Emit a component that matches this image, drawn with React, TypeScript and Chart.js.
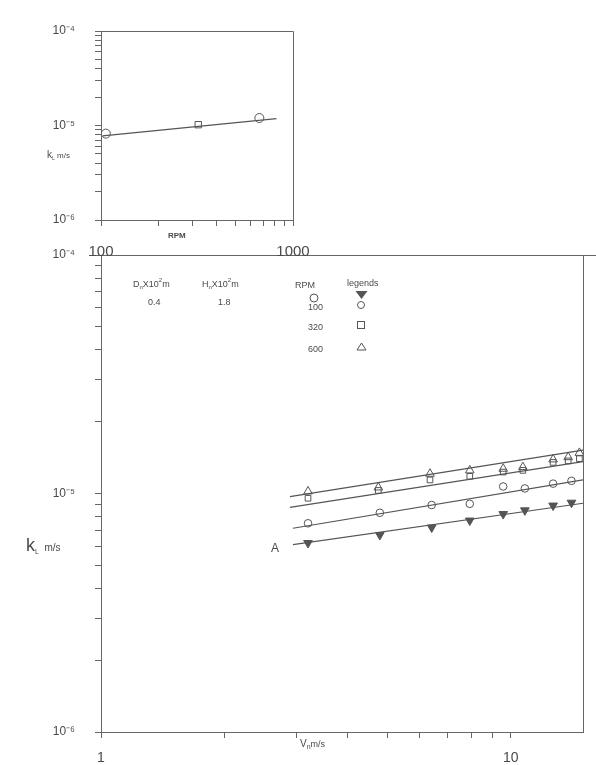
import React, { useEffect, useRef } from "react";
import { Chart, registerables } from "chart.js";

Chart.register(...registerables);

// ---------- data ----------
// main chart: k_L (m/s) versus nozzle velocity V_n (m/s)
const velocityTop = [3.2, 4.75, 6.35, 7.94, 9.58, 10.7, 12.68, 13.8, 14.7];
const velocityBottom = [3.2, 4.79, 6.41, 7.94, 9.58, 10.82, 12.68, 14.06];
const k600 = [1.02e-5, 1.06e-5, 1.21e-5, 1.25e-5, 1.27e-5, 1.29e-5, 1.39e-5, 1.42e-5, 1.48e-5];
const k320 = [9.55e-6, 1.03e-5, 1.14e-5, 1.18e-5, 1.23e-5, 1.25e-5, 1.35e-5, 1.37e-5, 1.4e-5];
const k100 = [7.5e-6, 8.3e-6, 8.95e-6, 9.05e-6, 1.07e-5, 1.05e-5, 1.1e-5, 1.13e-5];
const kA = [6.2e-6, 6.7e-6, 7.2e-6, 7.7e-6, 8.2e-6, 8.5e-6, 8.9e-6, 9.15e-6];

const fitVelocityTop = [2.89, 15];
const fitVelocityBottom = [2.94, 15];
const fit600 = [9.7e-6, 1.52e-5];
const fit320 = [8.75e-6, 1.36e-5];
const fit100 = [7.15e-6, 1.14e-5];
const fitA = [6.1e-6, 9.1e-6];

const mainXTicks = [1, 2, 3, 4, 5, 6, 7, 8, 9, 10];
const mainXLabels = ["1", "", "", "", "", "", "", "", "", "10"];
const mainYTicks = [
  1e-6, 2e-6, 3e-6, 4e-6, 5e-6, 6e-6, 7e-6, 8e-6, 9e-6,
  1e-5, 2e-5, 3e-5, 4e-5, 5e-5, 6e-5, 7e-5, 8e-5, 9e-5, 1e-4,
];

// inset: k_L versus RPM
const insetRpm = [106, 321, 668];
const insetK = [8.2e-6, 1.02e-5, 1.2e-5];
const insetFitRpm = [102, 820];
const insetFitK = [7.75e-6, 1.18e-5];
const insetXTicks = [100, 200, 300, 400, 500, 600, 700, 800, 900, 1000];
const insetYTicks = mainYTicks;

// legend table text
const legendRpm = ["100", "320", "600"];
const legendDn = "0.4";
const legendHn = "1.8";

// ---------- helpers ----------
const FONT = "'Liberation Sans', Arial, Helvetica, sans-serif";
const INK = "#4a4a4a";
const LINE = "#666666";

const SUP: Record<string, string> = { "-": "\u207B", "0": "\u2070", "1": "\u00B9", "2": "\u00B2", "3": "\u00B3", "4": "\u2074", "5": "\u2075", "6": "\u2076", "7": "\u2077", "8": "\u2078", "9": "\u2079" };
function powLabel(v: number): string {
  const l = Math.log10(v);
  const e = Math.round(l);
  if (Math.abs(l - e) > 1e-6) return "";
  return "10" + String(e).split("").map((c) => SUP[c] || c).join("");
}

type Part = [string, number, number, boolean?];
function drawParts(ctx: CanvasRenderingContext2D, x: number, y: number, parts: Part[]) {
  let cx = x;
  for (const [t, size, dy, bold] of parts) {
    ctx.font = `${bold ? "bold " : ""}${size}px ${FONT}`;
    ctx.fillText(t, cx, y + dy);
    cx += ctx.measureText(t).width;
  }
}

function pts(xs: number[], ys: number[]) {
  return xs.map((x, i) => ({ x, y: ys[i] }));
}

function logAxis(ticks: number[], labelFn: (v: number, i: number) => string, padding: number, size: number, fit: (s: any) => void, min: number, max: number, position: string) {
  return {
    type: "logarithmic" as const,
    position,
    min,
    max,
    afterBuildTicks: (axis: any) => {
      axis.ticks = ticks.map((v) => ({ value: v }));
    },
    afterFit: fit,
    grid: { drawOnChartArea: false, drawTicks: true, tickLength: 6, color: LINE, lineWidth: 1 },
    border: { display: true, color: LINE, width: 1 },
    ticks: {
      autoSkip: false,
      maxRotation: 0,
      minRotation: 0,
      padding,
      color: INK,
      font: { family: FONT, size },
      callback: (v: any, i: number) => labelFn(Number(v), i),
    },
  };
}

// ---------- main chart ----------
function MainChart() {
  const ref = useRef<HTMLCanvasElement | null>(null);
  useEffect(() => {
    if (!ref.current) return;
    const annot = {
      id: "mainAnnot",
      afterDraw(chart: any) {
        const ctx: CanvasRenderingContext2D = chart.ctx;
        const a = chart.chartArea;
        ctx.save();
        ctx.strokeStyle = LINE;
        ctx.lineWidth = 1;
        ctx.beginPath();
        ctx.moveTo(a.left - 12, a.top + 0.5);
        ctx.lineTo(chart.width, a.top + 0.5);
        ctx.moveTo(a.right + 0.5, a.top);
        ctx.lineTo(a.right + 0.5, a.bottom);
        ctx.stroke();

        ctx.fillStyle = INK;
        ctx.textBaseline = "alphabetic";
        ctx.textAlign = "left";
        // y title
        drawParts(ctx, 26, 551, [["k", 18, 0], ["L", 7, 3], ["  m/s", 10, 0]]);
        // x title
        drawParts(ctx, 300, 747, [["V", 10, 0], ["n", 7, 2], ["m/s", 9, 0]]);
        // legend table
        drawParts(ctx, 133, 287, [["D", 9, 0], ["n", 6, 2], ["X10", 9, 0], ["2", 6, -5], ["m", 9, 0]]);
        drawParts(ctx, 202, 287, [["H", 9, 0], ["n", 6, 2], ["X10", 9, 0], ["2", 6, -5], ["m", 9, 0]]);
        drawParts(ctx, 295, 288, [["RPM", 9, 0]]);
        drawParts(ctx, 347, 286, [["legends", 9, 0]]);
        drawParts(ctx, 148, 305, [[legendDn, 9, 0]]);
        drawParts(ctx, 218, 305, [[legendHn, 9, 0]]);
        drawParts(ctx, 308, 310, [[legendRpm[0], 9, 0]]);
        drawParts(ctx, 308, 330, [[legendRpm[1], 9, 0]]);
        drawParts(ctx, 308, 352, [[legendRpm[2], 9, 0]]);
        // "A" label
        drawParts(ctx, 271, 552, [["A", 12, 0]]);

        // legend symbols
        ctx.strokeStyle = "#555";
        ctx.lineWidth = 1;
        ctx.beginPath();
        ctx.moveTo(355.5, 291);
        ctx.lineTo(367.5, 291);
        ctx.lineTo(361.5, 299);
        ctx.closePath();
        ctx.fillStyle = "#555";
        ctx.fill();
        ctx.beginPath();
        ctx.arc(361, 305, 3.5, 0, Math.PI * 2);
        ctx.stroke();
        ctx.beginPath();
        ctx.arc(314, 298, 4, 0, Math.PI * 2);
        ctx.stroke();
        ctx.strokeRect(357.5, 321.5, 7, 7);
        ctx.beginPath();
        ctx.moveTo(361.5, 343);
        ctx.lineTo(366, 350);
        ctx.lineTo(357, 350);
        ctx.closePath();
        ctx.stroke();
        ctx.restore();
      },
    };

    const fitStyle = { showLine: true, borderColor: "#555", borderWidth: 1.2, pointRadius: 0, fill: false };
    const chart = new Chart(ref.current, {
      type: "scatter",
      data: {
        datasets: [
          { ...fitStyle, data: pts(fitVelocityTop, fit600) },
          { ...fitStyle, data: pts(fitVelocityTop, fit320) },
          { ...fitStyle, data: pts(fitVelocityBottom, fit100) },
          { ...fitStyle, data: pts(fitVelocityBottom, fitA) },
          { data: pts(velocityTop, k320), pointStyle: "rect", pointRadius: 4, borderColor: "#555", borderWidth: 1, backgroundColor: "rgba(255,255,255,0)" },
          { data: pts(velocityTop, k600), pointStyle: "triangle", pointRadius: 5, borderColor: "#555", borderWidth: 1, backgroundColor: "rgba(255,255,255,0)" },
          { data: pts(velocityBottom, k100), pointStyle: "circle", pointRadius: 3.8, borderColor: "#555", borderWidth: 1, backgroundColor: "#fff" },
          { data: pts(velocityBottom, kA), pointStyle: "triangle", rotation: 180, pointRadius: 5, borderColor: "#555", borderWidth: 1, backgroundColor: "#555" },
        ] as any,
      },
      options: {
        animation: false,
        responsive: false,
        maintainAspectRatio: false,
        events: [],
        layout: { padding: { left: 0, top: 255, right: 13, bottom: 0 } },
        plugins: { legend: { display: false }, tooltip: { enabled: false }, title: { display: false } },
        scales: {
          x: logAxis(mainXTicks, (v) => {
            const i = mainXTicks.indexOf(v);
            return i >= 0 ? mainXLabels[i] : "";
          }, 12, 14, (s: any) => { s.height = 33; }, 1, 15, "bottom"),
          y: logAxis(mainYTicks, (v) => powLabel(v), 20, 12, (s: any) => { s.width = 101; }, 1e-6, 1e-4, "left"),
        } as any,
      },
      plugins: [annot],
    });
    return () => chart.destroy();
  }, []);
  return <canvas ref={ref} width={596} height={765} style={{ position: "absolute", left: 0, top: 0, width: 596, height: 765 }} />;
}

// ---------- inset chart ----------
function InsetChart() {
  const ref = useRef<HTMLCanvasElement | null>(null);
  useEffect(() => {
    if (!ref.current) return;
    const annot = {
      id: "insetAnnot",
      afterDraw(chart: any) {
        const ctx: CanvasRenderingContext2D = chart.ctx;
        const a = chart.chartArea;
        ctx.save();
        ctx.strokeStyle = LINE;
        ctx.lineWidth = 1;
        ctx.beginPath();
        ctx.moveTo(a.left, a.top + 0.5);
        ctx.lineTo(a.right + 0.5, a.top + 0.5);
        ctx.lineTo(a.right + 0.5, a.bottom);
        ctx.stroke();
        ctx.fillStyle = INK;
        ctx.textAlign = "left";
        ctx.textBaseline = "alphabetic";
        drawParts(ctx, 168, 238, [["RPM", 8, 0, true]]);
        drawParts(ctx, 47, 158, [["k", 10, 0], ["L", 5, 2], [" m/s", 8, 0]]);
        ctx.restore();
      },
    };
    const chart = new Chart(ref.current, {
      type: "scatter",
      data: {
        datasets: [
          { showLine: true, borderColor: "#555", borderWidth: 1.2, pointRadius: 0, data: pts(insetFitRpm, insetFitK) },
          {
            data: pts(insetRpm, insetK),
            pointStyle: ["circle", "rect", "circle"],
            pointRadius: [4.5, 4.5, 4.5],
            borderColor: "#555",
            borderWidth: 1,
            backgroundColor: "#fff",
          },
        ] as any,
      },
      options: {
        animation: false,
        responsive: false,
        maintainAspectRatio: false,
        events: [],
        layout: { padding: { left: 0, top: 31, right: 27, bottom: 0 } },
        plugins: { legend: { display: false }, tooltip: { enabled: false } },
        scales: {
          x: logAxis(insetXTicks, (v) => (v === 100 ? "100" : v === 1000 ? "1000" : ""), 17, 15, (s: any) => {
            s.height = 45;
            s.paddingLeft = 0;
            s.paddingRight = 0;
          }, 100, 1000, "bottom"),
          y: logAxis(insetYTicks, (v) => powLabel(v), 20, 12, (s: any) => { s.width = 101; }, 1e-6, 1e-4, "left"),
        } as any,
      },
      plugins: [annot],
    });
    return () => chart.destroy();
  }, []);
  return <canvas ref={ref} width={320} height={265} style={{ position: "absolute", left: 0, top: 0, width: 320, height: 265 }} />;
}

export default function App() {
  return (
    <div style={{ position: "absolute", left: 0, top: 0, width: 596, height: 765, background: "#fff", overflow: "hidden" }}>
      <MainChart />
      <InsetChart />
    </div>
  );
}
